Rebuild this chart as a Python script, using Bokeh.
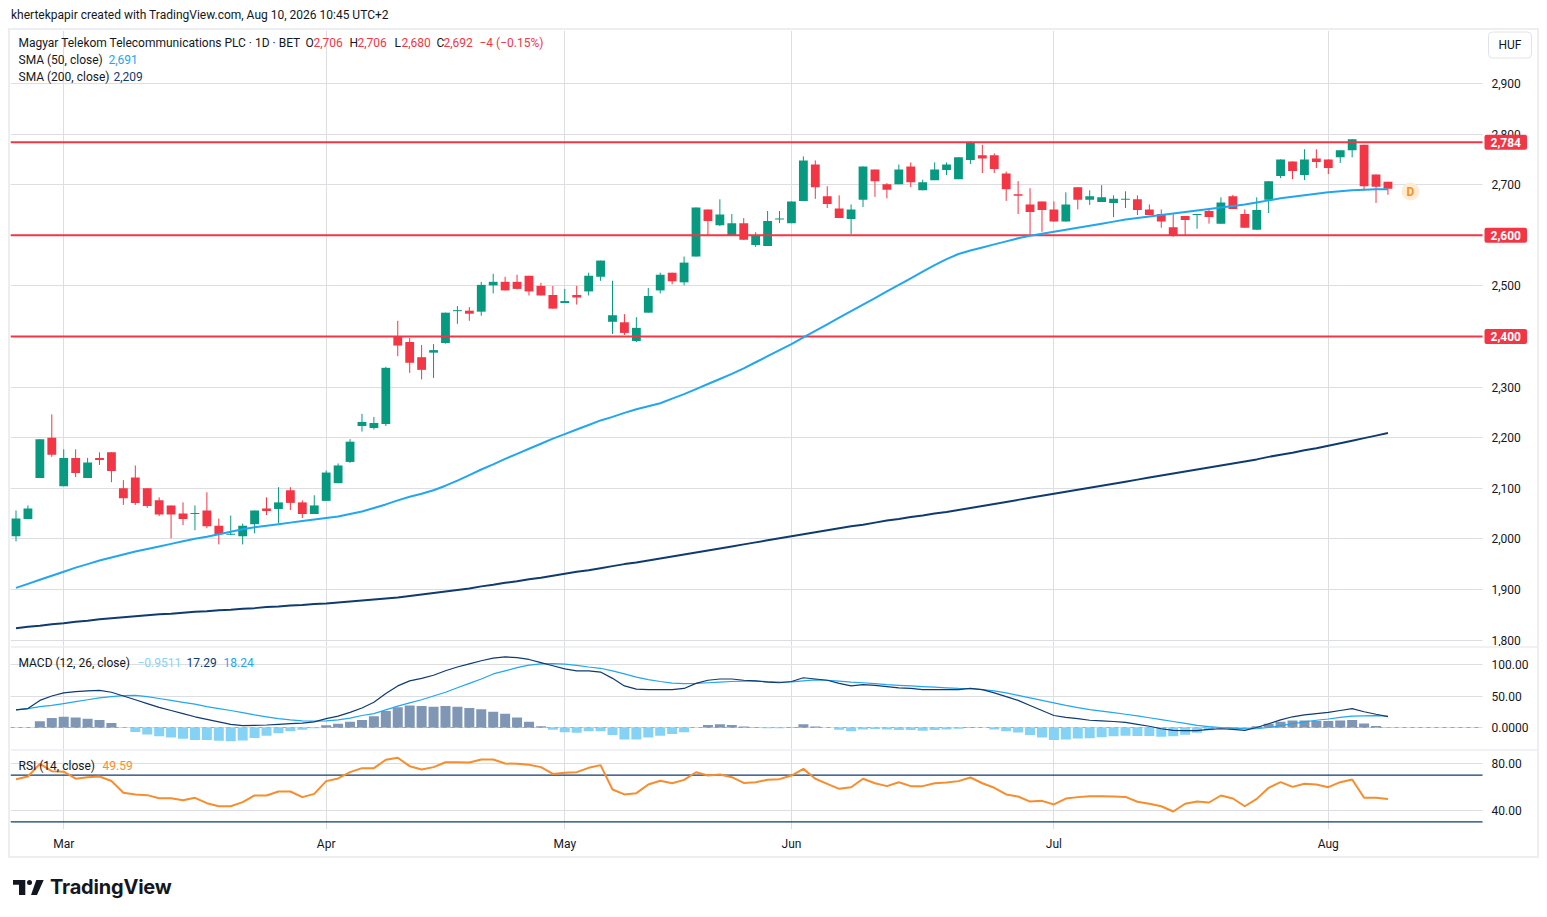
from bokeh.plotting import figure
from bokeh.models import (Range1d, FixedTicker, NumeralTickFormatter, CustomJSTickFormatter,
                          Span, Label, Grid, ColumnDataSource, Div, BoxAnnotation)
from bokeh.layouts import column
from bokeh.embed import file_html
from bokeh.resources import INLINE

# ---------------- data ----------------
title_text = "Magyar Telekom Telecommunications PLC · 1D · BET"
watermark = "khertekpapir created with TradingView.com, Aug 10, 2026 10:45 UTC+2"
currency = "HUF"
month_names = ["Mar", "Apr", "May", "Jun", "Jul", "Aug"]
month_bar = [4, 26, 46, 65, 87, 110]   # index of first session of each month

opens = [2005, 2039, 2120, 2200, 2104, 2160, 2120, 2160, 2171, 2100,
         2121, 2100, 2076, 2066, 2050, 2049, 2056, 2026, 2008, 2005,
         2029, 2060, 2059, 2096, 2072, 2049, 2075, 2110, 2152, 2223,
         2219, 2227, 2400, 2389, 2359, 2368, 2387, 2450, 2451, 2449,
         2501, 2508, 2508, 2520, 2500, 2482, 2466, 2482, 2489, 2518,
         2429, 2428, 2391, 2447, 2491, 2526, 2507, 2558, 2651, 2620,
         2599, 2624, 2581, 2579, 2631, 2624, 2668, 2740, 2677, 2653,
         2632, 2670, 2730, 2701, 2701, 2736, 2689, 2709, 2729, 2711,
         2749, 2758, 2758, 2722, 2681, 2661, 2667, 2651, 2627, 2695,
         2670, 2666, 2664, 2670, 2671, 2651, 2642, 2616, 2638, 2640,
         2648, 2623, 2677, 2642, 2611, 2670, 2717, 2746, 2719, 2752,
         2750, 2754, 2768, 2779, 2720, 2706]
highs = [2056, 2066, 2197, 2246, 2177, 2177, 2160, 2171, 2171, 2116,
         2145, 2100, 2082, 2066, 2072, 2066, 2092, 2040, 2046, 2030,
         2056, 2082, 2102, 2102, 2076, 2086, 2135, 2149, 2197, 2247,
         2241, 2340, 2431, 2397, 2383, 2385, 2447, 2460, 2458, 2508,
         2524, 2518, 2522, 2520, 2506, 2500, 2494, 2500, 2526, 2550,
         2510, 2444, 2438, 2496, 2526, 2526, 2558, 2655, 2651, 2671,
         2642, 2634, 2606, 2648, 2648, 2667, 2756, 2748, 2697, 2679,
         2661, 2736, 2730, 2703, 2740, 2744, 2710, 2744, 2744, 2754,
         2786, 2779, 2762, 2726, 2707, 2693, 2667, 2667, 2685, 2695,
         2689, 2699, 2679, 2687, 2679, 2661, 2651, 2642, 2638, 2641,
         2653, 2675, 2680, 2651, 2675, 2707, 2750, 2746, 2770, 2770,
         2750, 2768, 2790, 2779, 2720, 2706]
lows = [1995, 2039, 2120, 2162, 2104, 2122, 2120, 2146, 2112, 2067,
        2067, 2061, 2045, 2001, 2027, 2017, 2021, 1989, 2008, 1989,
        2011, 2047, 2031, 2057, 2041, 2049, 2075, 2110, 2150, 2212,
        2216, 2223, 2361, 2328, 2315, 2318, 2386, 2425, 2431, 2441,
        2485, 2491, 2493, 2481, 2481, 2455, 2466, 2463, 2481, 2510,
        2405, 2403, 2389, 2447, 2485, 2503, 2501, 2558, 2600, 2618,
        2599, 2591, 2577, 2579, 2624, 2624, 2668, 2672, 2654, 2634,
        2602, 2656, 2676, 2673, 2701, 2695, 2689, 2709, 2719, 2711,
        2741, 2723, 2723, 2668, 2642, 2601, 2607, 2627, 2627, 2651,
        2660, 2666, 2636, 2654, 2640, 2640, 2615, 2597, 2600, 2613,
        2623, 2623, 2652, 2615, 2611, 2644, 2713, 2711, 2709, 2733,
        2721, 2743, 2754, 2688, 2664, 2680]
closes = [2040, 2060, 2197, 2166, 2160, 2130, 2151, 2156, 2134, 2080,
          2071, 2065, 2048, 2048, 2039, 2050, 2025, 2009, 2010, 2026,
          2056, 2055, 2072, 2071, 2049, 2066, 2131, 2145, 2192, 2231,
          2229, 2338, 2382, 2348, 2334, 2373, 2447, 2451, 2445, 2502,
          2508, 2491, 2494, 2489, 2481, 2455, 2470, 2477, 2520, 2550,
          2442, 2407, 2417, 2480, 2522, 2509, 2546, 2655, 2628, 2641,
          2624, 2591, 2600, 2628, 2632, 2667, 2748, 2695, 2662, 2634,
          2651, 2736, 2707, 2690, 2730, 2705, 2705, 2730, 2740, 2754,
          2784, 2752, 2731, 2691, 2678, 2646, 2650, 2627, 2661, 2670,
          2677, 2675, 2672, 2671, 2650, 2640, 2627, 2600, 2630, 2641,
          2636, 2665, 2652, 2615, 2650, 2707, 2750, 2727, 2750, 2745,
          2733, 2768, 2790, 2697, 2696, 2692]
sma50 = [1903, 1911, 1919, 1927, 1935, 1943, 1950, 1957, 1963, 1969,
         1975, 1980, 1985, 1990, 1995, 2000, 2004, 2009, 2014, 2019,
         2023, 2026, 2029, 2032, 2035, 2038, 2041, 2044, 2049, 2054,
         2061, 2068, 2076, 2083, 2089, 2096, 2105, 2115, 2126, 2137,
         2147, 2158, 2168, 2178, 2188, 2198, 2207, 2216, 2225, 2234,
         2241, 2249, 2256, 2262, 2268, 2277, 2286, 2296, 2306, 2316,
         2326, 2337, 2349, 2361, 2373, 2385, 2398, 2411, 2424, 2437,
         2450, 2463, 2476, 2489, 2502, 2515, 2528, 2541, 2553, 2563,
         2570, 2576, 2582, 2588, 2594, 2599, 2603, 2607, 2611, 2615,
         2619, 2623, 2627, 2631, 2634, 2637, 2640, 2643, 2646, 2649,
         2652, 2655, 2658, 2661, 2665, 2669, 2673, 2676, 2679, 2682,
         2685, 2687, 2689, 2690, 2691, 2691]
sma200 = [1823, 1826, 1828, 1831, 1833, 1836, 1838, 1841, 1843, 1845,
          1847, 1849, 1851, 1852, 1854, 1856, 1857, 1859, 1860, 1862,
          1863, 1865, 1866, 1868, 1869, 1871, 1872, 1874, 1876, 1878,
          1880, 1882, 1884, 1887, 1890, 1893, 1896, 1899, 1902, 1906,
          1909, 1913, 1916, 1920, 1923, 1927, 1931, 1935, 1938, 1942,
          1946, 1950, 1953, 1957, 1961, 1965, 1969, 1973, 1977, 1981,
          1985, 1989, 1993, 1997, 2001, 2005, 2009, 2013, 2017, 2021,
          2025, 2028, 2032, 2036, 2039, 2043, 2046, 2050, 2053, 2057,
          2061, 2065, 2069, 2073, 2077, 2081, 2085, 2089, 2093, 2097,
          2101, 2105, 2109, 2113, 2117, 2121, 2125, 2129, 2133, 2137,
          2141, 2145, 2149, 2153, 2157, 2162, 2166, 2170, 2175, 2179,
          2184, 2189, 2194, 2199, 2204, 2209]
macd = [28, 30, 43, 50, 55, 57, 58, 59, 56, 50,
        44, 38, 32, 27, 22, 17, 13, 9, 5, 3,
        3.5, 4, 5, 6, 7, 9, 14, 18, 24, 31,
        40, 54, 66, 74, 78, 83, 90, 96, 101, 106,
        110, 112, 111, 108, 103, 98, 93, 90, 90, 88,
        78, 66, 61, 60, 60, 60, 62, 70, 75, 77,
        77, 75, 74, 72, 71, 73, 79, 77, 75, 70,
        66, 68, 67, 65, 63, 62, 60, 60, 60, 60,
        62, 60, 55, 49, 43, 35, 27, 19, 16, 14,
        11.5, 10.5, 9.5, 8, 5, 2, -2, -4.5, -5, -5,
        -3, -2, -3, -4.5, 0, 6, 12, 17, 20, 22,
        24, 27, 30, 25, 21, 17.29]
signal = [28, 30, 33, 35, 38, 41, 44, 47, 49, 50.5,
          51, 49, 46, 43, 40, 37, 33, 30, 27, 23.5,
          20, 17, 14, 12, 10.5, 10, 10.5, 12, 15, 19,
          22, 28, 34, 39, 44, 50, 56, 63, 70, 77,
          85, 90, 95, 99, 101, 101.5, 100.5, 98.5, 96, 94,
          90, 85, 80, 76, 73, 70.5, 69.5, 70, 71, 72,
          73, 73.5, 73.5, 73, 72, 72.5, 74, 75.5, 75, 73.5,
          72, 71, 69.5, 68, 67, 66, 65, 64, 63, 62,
          61.5, 60, 58, 55, 51, 47, 43, 39, 35, 31.5,
          28.5, 26, 23.5, 21, 18.5, 15.5, 12.5, 9.5, 6.5, 3.5,
          1.5, 0, -1, -2, -2, 0, 3, 6, 9, 11.5,
          13.5, 16, 18, 18.5, 18.8, 18.2411]
rsi = [66.5, 68.9, 79.7, 73.4, 73, 67, 68.3, 68.9, 65, 55,
       53.5, 52.9, 50.3, 50.3, 48.6, 50.6, 46, 43.4, 43.4, 46.9,
       52.6, 52.6, 56, 56, 51.2, 54, 64.9, 67.2, 72.6, 76,
       76, 83.2, 84.9, 77.7, 74.9, 76.9, 81.1, 81.1, 80.8, 83.4,
       83.4, 80, 79.7, 78.9, 76.9, 71.1, 72, 72.6, 76.3, 78.6,
       57.7, 53.5, 54.6, 62, 65.2, 63.1, 66, 72.5, 69.7, 70.6,
       68.3, 63.4, 64, 66, 66.6, 69.7, 75.4, 66.9, 62.6, 58.3,
       59.7, 66.9, 63.1, 60.6, 64, 60.6, 60.6, 63.1, 63.7, 64.9,
       68, 63.1, 59.2, 53.5, 51.7, 47.4, 48, 44.9, 50, 51.2,
       52, 52, 51.7, 51.4, 47.2, 45.5, 43.4, 38.9, 45.5, 47.4,
       46.6, 52.6, 50, 43.4, 49.7, 59.2, 64, 60, 62.6, 62,
       59.7, 64, 66.3, 50.6, 50.6, 49.59]
levels = [2784, 2600, 2400]
price_ticks = [1800, 1900, 2000, 2100, 2200, 2300, 2400, 2500, 2600, 2700, 2800, 2900]
macd_ticks = [0, 50, 100]
rsi_ticks = [40, 80]
rsi_bands = [70, 30]

# ---------------- styles ----------------
FONT = "Roboto"
TXT = "#131722"
UP = "#089981"
DOWN = "#F23645"
GRID = "#DCDEE2"
LIGHTBLUE = "#22A6F0"
NAVY = "#0F3B6F"
HIST_POS = "#7F97B4"
HIST_NEG = "#84D3F7"
ORANGE = "#F68D2E"
W = 1527

# page-pixel geometry helpers (layout only)
def px_x(px):
    return (px - 15.5) / 11.93

def price_y(py):
    return 1800 + (639.5 - py) / 0.5059

def macd_y(py):
    return (727 - py) / 0.63

def rsi_y(py):
    return 80 - (py - 763) / 1.1675

X0 = px_x(10)          # left edge of the panes
XAX = px_x(1482)       # where the price scale starts
x_range = Range1d(X0, px_x(1537))


def style_axis(ax, standoff):
    ax.axis_line_color = None
    ax.major_tick_line_color = None
    ax.minor_tick_line_color = None
    ax.major_tick_out = 0
    ax.major_tick_in = 0
    ax.minor_tick_out = 0
    ax.major_label_text_font = FONT
    ax.major_label_text_font_size = "12px"
    ax.major_label_text_color = TXT
    ax.major_label_standoff = standoff


def base_fig(height, y0, y1, ticks, xaxis=False):
    f = figure(width=W, height=height, x_range=x_range, y_range=Range1d(y0, y1),
               output_backend="svg", toolbar_location=None, tools="",
               x_axis_location="below" if xaxis else None, y_axis_location="right",
               min_border=0, min_border_left=0, min_border_right=0, min_border_top=0,
               min_border_bottom=27 if xaxis else 0)
    f.outline_line_color = None
    f.background_fill_color = "white"
    f.border_fill_color = "white"
    f.xgrid.grid_line_color = None
    f.add_layout(Grid(dimension=0, ticker=FixedTicker(ticks=month_bar),
                      grid_line_color=GRID, grid_line_width=1))
    f.ygrid.grid_line_color = GRID
    # keep the scale strip free of grid lines
    f.add_layout(BoxAnnotation(left=XAX, fill_color="white", fill_alpha=1.0,
                               line_color=None, level="underlay"))
    ax = f.yaxis[0]
    ax.fixed_location = XAX
    ax.ticker = FixedTicker(ticks=ticks)
    style_axis(ax, 9)
    return f


def add_label(fig, x, y, text, color=TXT, size="12px", bold=False, align="left", **kw):
    fig.add_layout(Label(x=x, y=y, text=text, text_color=color, text_font=FONT,
                         text_font_size=size, text_font_style="bold" if bold else "normal",
                         text_align=align, text_baseline="middle", **kw))


def fmt(v):
    return f"{v:,.0f}"

# ---------------- price pane ----------------
p = base_fig(616, price_y(646), price_y(30), price_ticks)
p.yaxis[0].formatter = NumeralTickFormatter(format="0,0")

idx = list(range(len(closes)))
colors = [UP if c >= o else DOWN for o, c in zip(opens, closes)]
tops, bots = [], []
for o, c in zip(opens, closes):
    t, b = max(o, c), min(o, c)
    if t - b < 2:
        t = b + 2
    tops.append(t)
    bots.append(b)
src = ColumnDataSource(dict(x=idx, h=highs, l=lows, top=tops, bot=bots, color=colors))
p.segment(x0="x", y0="l", x1="x", y1="h", line_color="color", line_width=1, source=src)
p.vbar(x="x", width=0.74, top="top", bottom="bot", fill_color="color", line_color=None, source=src)

# horizontal levels, up to the price scale
p.segment(x0=[X0] * len(levels), x1=[XAX] * len(levels), y0=levels, y1=levels,
          line_color=DOWN, line_width=2)

p.line(idx, sma200, line_color=NAVY, line_width=2)
p.line(idx, sma50, line_color=LIGHTBLUE, line_width=2)

# price tags on the scale
for lv in levels:
    add_label(p, px_x(1484), lv, fmt(lv), color="white", bold=True,
              background_fill_color=DOWN, padding=(6, 3), border_radius=2)

# dividend marker
p.scatter([px_x(1410)], [price_y(191)], size=18, fill_color="#FDEBD3", line_color=None)
add_label(p, px_x(1410), price_y(191), "D", color="#F7931A", bold=True, align="center")

# currency button
add_label(p, px_x(1509.5), price_y(44.5), currency, align="center",
          background_fill_color="white", border_line_color="#E0E3EB", border_line_width=1,
          border_radius=4, padding=(10, 6))

# legend header
chg = closes[-1] - closes[-2]
pct = chg / closes[-2] * 100
def sgn(v, nd):
    s = f"{abs(v):.{nd}f}"
    return ("\u2212" + s) if v < 0 else ("+" + s)

y1 = price_y(42)
add_label(p, px_x(18), y1, title_text)
add_label(p, px_x(305), y1, "O")
add_label(p, px_x(313), y1, fmt(opens[-1]), color=DOWN)
add_label(p, px_x(349), y1, "H")
add_label(p, px_x(357), y1, fmt(highs[-1]), color=DOWN)
add_label(p, px_x(394), y1, "L")
add_label(p, px_x(401), y1, fmt(lows[-1]), color=DOWN)
add_label(p, px_x(436), y1, "C")
add_label(p, px_x(443), y1, fmt(closes[-1]), color=DOWN)
add_label(p, px_x(479), y1, f"{sgn(chg, 0)} ({sgn(pct, 2)}%)", color=DOWN)
add_label(p, px_x(18), price_y(59), "SMA (50, close)")
add_label(p, px_x(108), price_y(59), fmt(sma50[-1]), color=LIGHTBLUE)
add_label(p, px_x(18), price_y(76), "SMA (200, close)")
add_label(p, px_x(113), price_y(76), fmt(sma200[-1]), color=NAVY)

# ---------------- MACD pane ----------------
m = base_fig(103, macd_y(749), macd_y(646), macd_ticks)
m.yaxis[0].formatter = CustomJSTickFormatter(
    code="return tick == 0 ? '0.0000' : tick.toFixed(2);")
hist = [a - b for a, b in zip(macd, signal)]
hcol = [HIST_POS if h >= 0 else HIST_NEG for h in hist]
m.segment(x0=[X0], x1=[XAX], y0=[0], y1=[0], line_color="#9598A1", line_dash="4 4",
          line_width=1, line_alpha=0.8)
m.vbar(x=idx, width=0.84, top=hist, bottom=0, fill_color=hcol, line_color=None)
m.line(idx, signal, line_color=LIGHTBLUE, line_width=1.2)
m.line(idx, macd, line_color=NAVY, line_width=1.2)
m.add_layout(Span(location=macd_y(646), dimension="width", line_color="#E0E3EB", line_width=2))
add_label(m, px_x(18), macd_y(662), "MACD (12, 26, close)")
add_label(m, px_x(137), macd_y(662), sgn(hist[-1], 4).replace("+", ""),
          color=HIST_NEG if hist[-1] < 0 else HIST_POS)
add_label(m, px_x(186), macd_y(662), f"{macd[-1]:.2f}", color=NAVY)
add_label(m, px_x(223), macd_y(662), f"{signal[-1]:.2f}", color=LIGHTBLUE)

# ---------------- RSI pane ----------------
r = base_fig(107, rsi_y(829), rsi_y(749), rsi_ticks, xaxis=True)
r.yaxis[0].formatter = NumeralTickFormatter(format="0.00")
xa = r.xaxis[0]
xa.ticker = FixedTicker(ticks=month_bar)
xa.major_label_overrides = {b: n for b, n in zip(month_bar, month_names)}
style_axis(xa, 7)
r.segment(x0=[X0] * len(rsi_bands), x1=[XAX] * len(rsi_bands), y0=rsi_bands, y1=rsi_bands,
          line_color=NAVY, line_width=1.3)
r.line(idx, rsi, line_color=ORANGE, line_width=2)
r.add_layout(Span(location=rsi_y(749), dimension="width", line_color="#E0E3EB", line_width=2))
add_label(r, px_x(18), rsi_y(765), "RSI (14, close)")
add_label(r, px_x(102), rsi_y(765), f"{rsi[-1]:.2f}", color=ORANGE)

# ---------------- page ----------------
top_div = Div(text=watermark, width=1531, height=20, margin=(0, 0, 0, 0),
              styles={"font-family": "Roboto", "font-size": "12px", "color": TXT,
                      "line-height": "14px", "padding-left": "3px"})
charts = column(p, m, r, margin=(2, 0, 2, 2), spacing=0,
                styles={"outline": "2px solid #ECEEF2"})
logo_svg = ('<svg width="31" height="15" viewBox="0 0 31 15">'
            '<path d="M0 0H12.3V15H6V4.7H0Z" fill="#131722"/>'
            '<circle cx="16.5" cy="2.5" r="2.5" fill="#131722"/>'
            '<path d="M23.3 0H30.7L24 15H18Z" fill="#131722"/></svg>')
logo_div = Div(text=('<div style="display:flex;align-items:center;margin-top:15px;margin-left:5px">'
                     + logo_svg +
                     '<span style="font-family:Inter;font-weight:700;font-size:20px;'
                     'color:#131722;margin-left:6px;letter-spacing:-0.2px">TradingView</span></div>'),
               width=400, height=48, margin=(0, 0, 0, 0))
layout = column(top_div, charts, logo_div, spacing=0, margin=(8, 0, 0, 8))

open("out.html", "w").write(file_html(layout, INLINE, title="Magyar Telekom"))
